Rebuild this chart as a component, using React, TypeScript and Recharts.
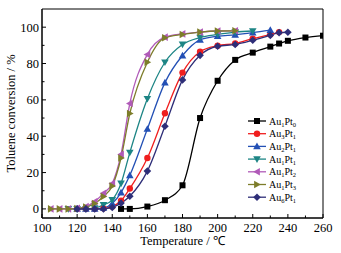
import React from 'react';
import {
  LineChart,
  Line,
  XAxis,
  YAxis,
  ReferenceArea,
} from 'recharts';

// temperatures (°C) and toluene conversion (%)
const tAu1Pt0 = [145, 150, 160, 170, 180, 190, 200, 210, 220, 230, 235, 240, 250, 260];
const vAu1Pt0 = [0, 0, 1.3, 4.8, 13, 50, 70.5, 82, 86, 89.3, 91, 92.5, 94.3, 95.3];

const tAu3Pt1 = [120, 125, 130, 135, 140, 145, 150, 160, 170, 180, 190, 200, 210, 220, 230, 235];
const vAu3Pt1 = [0, 0, 0, 0.3, 1.3, 4.5, 11.2, 28, 52.6, 75, 86.5, 89.8, 91, 93.7, 96, 97.3];

const tAu2Pt1 = [120, 125, 130, 135, 140, 145, 150, 160, 170, 180, 190, 200, 210, 220, 230];
const vAu2Pt1 = [0, 0, 0, 0.5, 3, 9, 18.5, 44, 69.5, 84.4, 93, 95, 95.8, 97, 98.4];

const tAu1Pt1 = [115, 120, 125, 130, 135, 140, 145, 150, 160, 170, 180, 190, 200, 210, 220];
const vAu1Pt1 = [0, 0, 0, 0.5, 2.2, 5, 14, 31, 60.6, 80.7, 90.5, 94.3, 96, 97.3, 97.9];

const tAu1Pt2 = [105, 110, 115, 120, 125, 130, 135, 140, 145, 150, 160, 170, 180, 190, 200, 210];
const vAu1Pt2 = [0, 0, 0, 0.3, 1.3, 4, 8.6, 14, 30, 58, 85, 94.5, 96.3, 97.3, 97.9, 98];

const tAu1Pt3 = [105, 110, 115, 120, 125, 130, 135, 140, 145, 150, 160, 170, 180, 190, 200, 210];
const vAu1Pt3 = [0, 0, 0, 0.2, 1, 3, 6.8, 12.6, 28, 52.5, 80.7, 94.2, 96, 97.3, 97.9, 98];

const tAu6Pt1 = [120, 125, 130, 135, 140, 145, 150, 160, 170, 180, 190, 200, 210, 220, 230, 235, 240];
const vAu6Pt1 = [0, 0, 0, 0, 0.8, 3.2, 7, 20.8, 45.5, 71, 84.5, 89.5, 90.5, 92.8, 95.5, 97, 97.2];

const xTicks = [100, 110, 120, 130, 140, 150, 160, 170, 180, 190, 200, 210, 220, 230, 240, 250, 260];
const yTicks = [0, 10, 20, 30, 40, 50, 60, 70, 80, 90, 100];

const zip = (t: number[], v: number[]) => t.map((x, i) => ({ t: x, v: v[i] }));

const series = [
  { key: 'a', a: '1', b: '0', color: '#000000', shape: 'square', data: zip(tAu1Pt0, vAu1Pt0) },
  { key: 'b', a: '3', b: '1', color: '#f01e1e', shape: 'circle', data: zip(tAu3Pt1, vAu3Pt1) },
  { key: 'c', a: '2', b: '1', color: '#2350b5', shape: 'up', data: zip(tAu2Pt1, vAu2Pt1) },
  { key: 'd', a: '1', b: '1', color: '#1d8585', shape: 'down', data: zip(tAu1Pt1, vAu1Pt1) },
  { key: 'e', a: '1', b: '2', color: '#b05ab8', shape: 'left', data: zip(tAu1Pt2, vAu1Pt2) },
  { key: 'f', a: '1', b: '3', color: '#7d7d2a', shape: 'right', data: zip(tAu1Pt3, vAu1Pt3) },
  { key: 'g', a: '6', b: '1', color: '#2e2e78', shape: 'diamond', data: zip(tAu6Pt1, vAu6Pt1) },
];

const FONT = '"Liberation Serif", "Times New Roman", serif';

const Marker = ({ cx, cy, shape, color }: any) => {
  const s = 3;
  const t = 3.8;
  switch (shape) {
    case 'square':
      return <rect x={cx - s} y={cy - s} width={2 * s} height={2 * s} fill={color} />;
    case 'circle':
      return <circle cx={cx} cy={cy} r={3.2} fill={color} />;
    case 'up':
      return <polygon points={`${cx},${cy - t} ${cx - t},${cy + t * 0.75} ${cx + t},${cy + t * 0.75}`} fill={color} />;
    case 'down':
      return <polygon points={`${cx},${cy + t} ${cx - t},${cy - t * 0.75} ${cx + t},${cy - t * 0.75}`} fill={color} />;
    case 'left':
      return <polygon points={`${cx - t},${cy} ${cx + t * 0.75},${cy - t} ${cx + t * 0.75},${cy + t}`} fill={color} />;
    case 'right':
      return <polygon points={`${cx + t},${cy} ${cx - t * 0.75},${cy - t} ${cx - t * 0.75},${cy + t}`} fill={color} />;
    default:
      return <polygon points={`${cx},${cy - t} ${cx + t},${cy} ${cx},${cy + t} ${cx - t},${cy}`} fill={color} />;
  }
};

const XTick = ({ x, y, payload }: any) => {
  const major = payload.value % 20 === 0;
  return (
    <g>
      <line x1={x} x2={x} y1={y} y2={y - (major ? 4 : 2.5)} stroke="#000" strokeWidth={1} />
      {major && (
        <text x={x} y={y + 14} textAnchor="middle" fontSize={12.5} fontFamily={FONT} fill="#000">
          {payload.value}
        </text>
      )}
    </g>
  );
};

const YTick = ({ x, y, payload }: any) => {
  const major = payload.value % 20 === 0;
  return (
    <g>
      <line x1={x} x2={x + (major ? 4 : 2.5)} y1={y} y2={y} stroke="#000" strokeWidth={1} />
      {major && (
        <text x={x - 3} y={y} dy="0.35em" textAnchor="end" fontSize={12.5} fontFamily={FONT} fill="#000">
          {payload.value}
        </text>
      )}
    </g>
  );
};

const LegendBox = () => (
  <svg width={90} height={92} style={{ display: 'block' }}>
    {series.map((s, i) => {
      const y = 8 + i * 12.7;
      return (
        <g key={s.key}>
          <line x1={4} x2={22} y1={y} y2={y} stroke={s.color} strokeWidth={1.3} />
          <Marker cx={13} cy={y} shape={s.shape} color={s.color} />
          <text x={25} y={y + 3.5} fontSize={10} fontFamily={FONT} fill="#000">
            Au<tspan fontSize={6.5} dy={2}>{s.a}</tspan>
            <tspan dy={-2}>Pt</tspan>
            <tspan fontSize={6.5} dy={2}>{s.b}</tspan>
          </text>
        </g>
      );
    })}
  </svg>
);

export default function App() {
  return (
    <div style={{ position: 'absolute', left: 0, top: 0, width: 341, height: 253, background: '#fff' }}>
      <LineChart width={341} height={253} margin={{ top: 9, right: 18, left: 0, bottom: 0 }}>
        <XAxis
          type="number"
          dataKey="t"
          domain={[100, 260]}
          ticks={xTicks}
          interval={0}
          tick={<XTick />}
          tickSize={0}
          tickMargin={0}
          height={35}
          stroke="#000"
          allowDataOverflow
          label={{
            content: ({ viewBox }: any) => (
              <text
                x={viewBox.x + viewBox.width / 2}
                y={viewBox.y + 27}
                textAnchor="middle"
                fontSize={12.5}
                fontFamily={FONT}
                fill="#000"
              >
                Temperature / ℃
              </text>
            ),
          }}
        />
        <YAxis
          type="number"
          domain={[-5, 110]}
          ticks={yTicks}
          interval={0}
          tick={<YTick />}
          tickSize={0}
          tickMargin={0}
          width={42}
          stroke="#000"
          allowDataOverflow
          label={{
            content: ({ viewBox }: any) => {
              const cx = viewBox.x + 11;
              const cy = viewBox.y + viewBox.height / 2;
              return (
                <text
                  x={cx}
                  y={cy}
                  transform={`rotate(-90 ${cx} ${cy})`}
                  textAnchor="middle"
                  dominantBaseline="central"
                  fontSize={12.5}
                  fontFamily={FONT}
                  fill="#000"
                >
                  Toluene conversion / %
                </text>
              );
            },
          }}
        />
        <ReferenceArea x1={100} x2={260} y1={-5} y2={110} fill="none" stroke="#000" strokeWidth={1} />
        {series.map((s) => (
          <Line
            key={s.key}
            data={s.data}
            dataKey="v"
            type="monotone"
            stroke={s.color}
            strokeWidth={1.3}
            dot={(p: any) => <Marker key={`${s.key}-${p.index}`} cx={p.cx} cy={p.cy} shape={s.shape} color={s.color} />}
            activeDot={false}
            isAnimationActive={false}
          />
        ))}
      </LineChart>
      <div style={{ position: 'absolute', left: 244, top: 113 }}>
        <LegendBox />
      </div>
    </div>
  );
}
